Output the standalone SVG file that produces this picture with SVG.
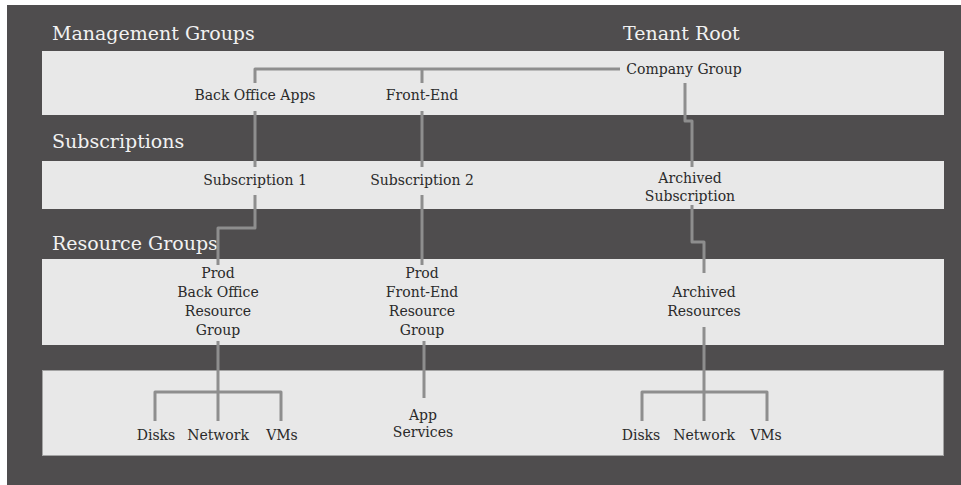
<svg xmlns="http://www.w3.org/2000/svg" width="961" height="485" viewBox="0 0 961 485">
  <style>
    .bg { fill: #4f4d4e; }
    .band { fill: #e8e8e8; }
    .band4 { fill: #e8e8e8; stroke: #a3a3a3; stroke-width: 1; }
    .head { font-family: "DejaVu Serif", "Liberation Serif", serif; font-size: 19px; fill: #f2f2f2; }
    .lbl { font-family: "DejaVu Serif", "Liberation Serif", serif; font-size: 14px; fill: #2a2a2a; text-anchor: middle; }
    .conn { fill: none; stroke: #8e8e8e; stroke-width: 3; stroke-linejoin: round; stroke-linecap: butt; }
  </style>
  <rect x="0" y="0" width="961" height="485" fill="#ffffff"/>
  <rect class="bg" x="7" y="5" width="954" height="480"/>
  <g id="bands">
    <rect class="band" x="42" y="51" width="902" height="64"/>
    <rect class="band" x="42" y="161" width="902" height="48"/>
    <rect class="band" x="42" y="259" width="902" height="86"/>
    <rect class="band4" x="42.5" y="370.5" width="901" height="85"/>
  </g>
  <g id="headings">
    <text class="head" x="52" y="40">Management Groups</text>
    <text class="head" x="623" y="40">Tenant Root</text>
    <text class="head" x="52" y="148">Subscriptions</text>
    <text class="head" x="52" y="250">Resource Groups</text>
  </g>
  <g id="connectors">
    <path class="conn" d="M255 83 V69 H620"/>
    <path class="conn" d="M422 69 V83"/>
    <path class="conn" d="M685 83 V121 H692 V167"/>
    <path class="conn" d="M255 111 V167"/>
    <path class="conn" d="M422 111 V167"/>
    <path class="conn" d="M255 195 V228 H218 V265"/>
    <path class="conn" d="M422 195 V265"/>
    <path class="conn" d="M692 205 V242 H704 V273"/>
    <path class="conn" d="M218 341 V421"/>
    <path class="conn" d="M155 421 V392 H281 V421"/>
    <path class="conn" d="M424 341 V398"/>
    <path class="conn" d="M704 327 V421"/>
    <path class="conn" d="M642 421 V392 H767 V421"/>
  </g>
  <g id="company-group"><text class="lbl" x="684" y="74">Company Group</text></g>
  <g id="back-office-apps"><text class="lbl" x="255" y="100">Back Office Apps</text></g>
  <g id="front-end"><text class="lbl" x="422" y="100">Front-End</text></g>
  <g id="subscription-1"><text class="lbl" x="255" y="185">Subscription 1</text></g>
  <g id="subscription-2"><text class="lbl" x="422" y="185">Subscription 2</text></g>
  <g id="archived-subscription">
    <text class="lbl" x="690" y="183">Archived</text>
    <text class="lbl" x="690" y="201">Subscription</text>
  </g>
  <g id="prod-back-office-rg">
    <text class="lbl" x="218" y="278">Prod</text>
    <text class="lbl" x="218" y="297">Back Office</text>
    <text class="lbl" x="218" y="316">Resource</text>
    <text class="lbl" x="218" y="335">Group</text>
  </g>
  <g id="prod-front-end-rg">
    <text class="lbl" x="422" y="278">Prod</text>
    <text class="lbl" x="422" y="297">Front-End</text>
    <text class="lbl" x="422" y="316">Resource</text>
    <text class="lbl" x="422" y="335">Group</text>
  </g>
  <g id="archived-resources">
    <text class="lbl" x="704" y="297">Archived</text>
    <text class="lbl" x="704" y="316">Resources</text>
  </g>
  <g id="disks-1"><text class="lbl" x="156" y="440">Disks</text></g>
  <g id="network-1"><text class="lbl" x="218" y="440">Network</text></g>
  <g id="vms-1"><text class="lbl" x="282" y="440">VMs</text></g>
  <g id="app-services">
    <text class="lbl" x="423" y="420">App</text>
    <text class="lbl" x="423" y="437">Services</text>
  </g>
  <g id="disks-2"><text class="lbl" x="641" y="440">Disks</text></g>
  <g id="network-2"><text class="lbl" x="704" y="440">Network</text></g>
  <g id="vms-2"><text class="lbl" x="766" y="440">VMs</text></g>
</svg>
